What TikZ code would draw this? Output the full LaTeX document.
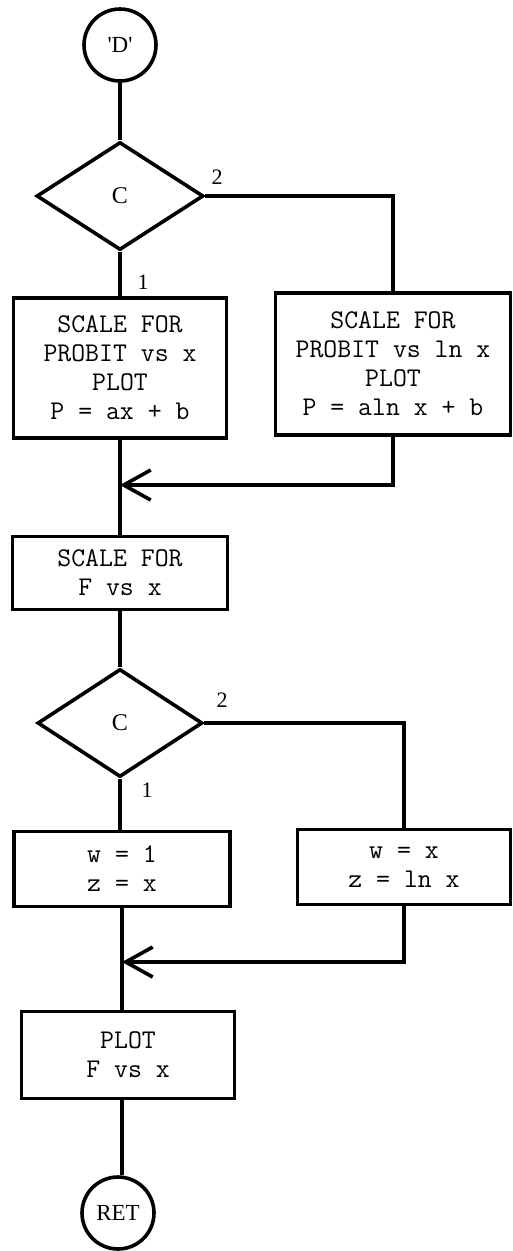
\documentclass[tikz,border=0pt]{standalone}
\usepackage{fontspec}
\usetikzlibrary{shapes.geometric,arrows.meta}
\newfontfamily\lblfont{Liberation Serif}
\newcommand\tyfont{\fontsize{27}{29}\ttfamily\addfontfeature{LetterSpace=3}}
\tikzset{
  conn/.style={line width=3.6pt},
  box/.style={draw, line width=3.6pt, align=center, inner sep=0pt, font=\tyfont},
  dec/.style={draw, diamond, line width=3.6pt, inner sep=0pt, minimum width=167pt, minimum height=108pt, font=\lblfont\fontsize{24}{26}\selectfont},
  term/.style={draw, circle, line width=3.6pt, minimum size=72pt, inner sep=1pt, font=\lblfont\fontsize{23}{25}\selectfont},
  lbl/.style={font=\lblfont\fontsize{22}{24}\selectfont, inner sep=0pt},
  barb/.style={-{Straight Barb[length=27pt,width=30pt]}}
}
\begin{document}
\begin{tikzpicture}[x=1pt,y=-1pt]
\useasboundingbox[fill=white] (0,0) rectangle (512,1251);
\node[term] (D) at (120,45) {\textquotesingle D\textquotesingle};
\node[dec] (c1) at (120,196) {C\hspace{6pt}};
\node[box, minimum width=213pt, minimum height=140pt] (b1) at (120,368)
  {SCALE FOR\\PROBIT vs x\\PLOT\\P = ax + b};
\node[box, minimum width=235pt, minimum height=142pt] (b2) at (393,364)
  {SCALE FOR\\PROBIT vs ln x\\PLOT\\P = aln x + b};
\node[box, minimum width=215pt, minimum height=73pt] (b3) at (120,573)
  {SCALE FOR\\F vs x};
\node[dec, minimum width=165pt] (c2) at (120,723) {C};
\node[box, minimum width=216pt, minimum height=75pt] (b4) at (122,869)
  {w = 1\\z = x};
\node[box, minimum width=213pt, minimum height=75pt] (b5) at (404,867)
  {w = x\\z = ln x};
\node[box, minimum width=213pt, minimum height=87pt] (b6) at (128,1055)
  {PLOT\\F vs x};
\node[term] (R) at (118,1213) {RET\hspace{12pt}};
\coordinate (j1) at (120,485);
\coordinate (j2) at (122,962);
\node[lbl] (l2a) at (217,177) {2};
\node[lbl] (l1a) at (143,282) {1};
\node[lbl] (l2b) at (222,700) {2};
\node[lbl] (l1b) at (147,790) {1};
\draw[conn] (D) -- (c1);
\draw[conn] (c1.south) -- (b1.north);
\draw[conn] (c1.east) -| (b2.north);
\draw[conn] (b1.south) -- (b3.north);
\draw[conn, barb] (b2.south) |- (j1);
\draw[conn] (b3.south) -- (c2.north);
\draw[conn] (c2.south) -- (c2.south |- b4.north);
\draw[conn] (c2.east) -| (b5.north);
\draw[conn] (b4.south) -- (b4.south |- b6.north);
\draw[conn, barb] (b5.south) |- (j2);
\draw[conn] (b6.south -| b4.south) -- (R.north -| b4.south);
\end{tikzpicture}
\end{document}
